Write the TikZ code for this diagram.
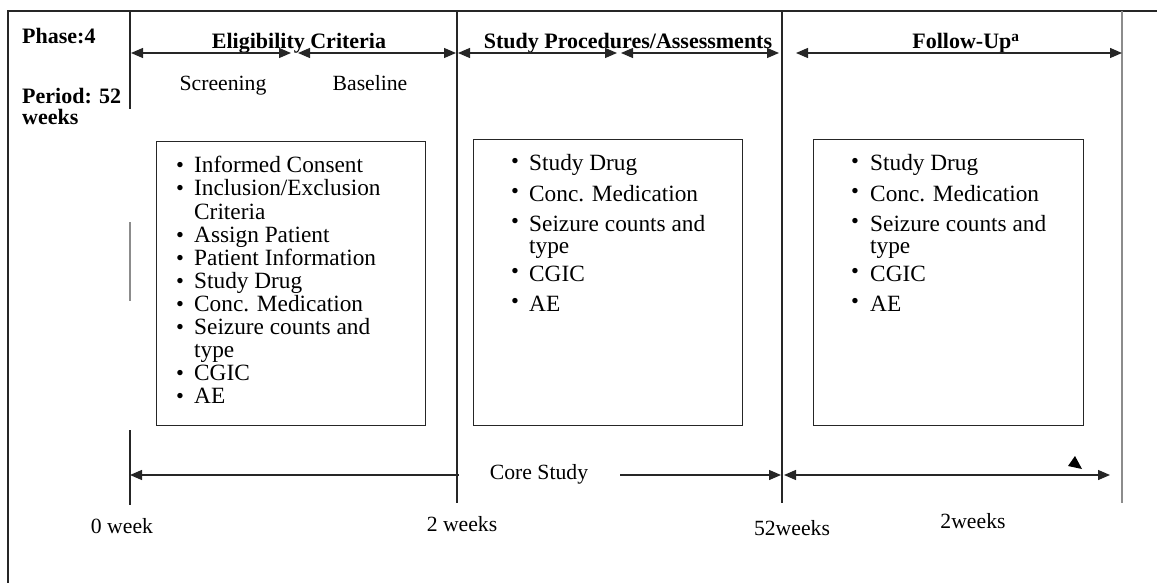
\documentclass[tikz,border=0pt]{standalone}
\usepackage{fontspec}
\setmainfont{Liberation Serif}
\usetikzlibrary{arrows.meta}
\tikzset{
  txt/.style={font=\fontsize{21.7}{24}\selectfont, inner sep=0pt, anchor=base},
  btxt/.style={font=\fontsize{22}{24}\selectfont\bfseries, inner sep=0pt, anchor=base},
  itm/.style={font=\fontsize{23.3}{24}\selectfont, inner sep=0pt, anchor=base west},
  bul/.style={font=\fontsize{22.5}{24}\selectfont, inner sep=0pt, anchor=base},
  boxst/.style={draw=black!85, line width=1.3pt, anchor=north west, inner sep=0pt},
  vln/.style={draw=black!85, line width=1.5pt},
  gln/.style={draw=black!45, line width=1.8pt},
  darr/.style={draw=black!85, line width=1.3pt, {Triangle[length=12pt,width=10pt]}-{Triangle[length=12pt,width=10pt]}},
  larr/.style={draw=black!85, line width=1.3pt, {Triangle[length=12pt,width=10pt]}-},
  rarr/.style={draw=black!85, line width=1.3pt, -{Triangle[length=12pt,width=10pt]}},
}
\begin{document}
\begin{tikzpicture}[x=1pt,y=-1pt]
\useasboundingbox (0,0) rectangle (1157,583);

% outer frame
\coordinate (fb) at (8,583);
\coordinate (fc) at (8,11);
\coordinate (fr) at (1157,11);
\draw[vln] (fb) -- (fc) -- (fr);

% vertical lines
\coordinate (v1a) at (130,11);  \coordinate (v1b) at (130,109);
\coordinate (v1c) at (130,222); \coordinate (v1d) at (130,301);
\coordinate (v1e) at (130,430); \coordinate (v1f) at (130,505);
\draw[vln] (v1a) -- (v1b);
\draw[gln] (v1c) -- (v1d);
\draw[vln] (v1e) -- (v1f);
\coordinate (v2a) at (457,11);  \coordinate (v2b) at (457,503);
\coordinate (v3a) at (782,11);  \coordinate (v3b) at (782,503);
\coordinate (v4a) at (1122,11); \coordinate (v4b) at (1122,503);
\draw[vln] (v2a) -- (v2b);
\draw[vln] (v3a) -- (v3b);
\draw[gln] (v4a) -- (v4b);

% left labels
\node[btxt, anchor=base west] (phase) at (22,44) {Phase:4};
\node[btxt, anchor=base west] (period) at (22,104) {Period: 52};
\node[btxt, anchor=base west] (weeks) at (22,125) {weeks};

% top headings
\node[btxt] (elig) at (299,49) {Eligibility Criteria};
\node[btxt] (proc) at (628,49) {Study Procedures/Assessments};
\node[btxt] (fup) at (966,49) {Follow-Up\textsuperscript{a}};
\node[txt] (scr) at (223,91) {Screening};
\node[txt] (base) at (370,91) {Baseline};

% top dimension arrows
\coordinate (e1) at (131,53); \coordinate (e2) at (291,53);
\coordinate (e3) at (298,53); \coordinate (e4) at (456,53);
\coordinate (p1) at (458,53); \coordinate (p2) at (617,53);
\coordinate (p3) at (621,53); \coordinate (p4) at (779,53);
\coordinate (f1) at (796,53); \coordinate (f2) at (1122,53);
\draw[darr] (e1) -- (e2);
\draw[darr] (e3) -- (e4);
\draw[darr] (p1) -- (p2);
\draw[darr] (p3) -- (p4);
\draw[darr] (f1) -- (f2);

% boxes
\node[boxst, minimum width=269, minimum height=284] (box1) at (156,141) {};
\node[boxst, minimum width=269, minimum height=286] (box2) at (473,139) {};
\node[boxst, minimum width=270, minimum height=286] (box3) at (813,139) {};

% box 1 list
\foreach \n/\y/\t in {a/173/{Informed Consent}, b/196/{Inclusion/Exclusion}, d/242/{Assign Patient}, e/265/{Patient Information}, f/288/{Study Drug}, g/311/{Conc. Medication}, h/334/{Seizure counts and}, j/380/{CGIC}, k/403/{AE}}{
  \node[bul] (b1u\n) at (180,\y) {•};
  \node[itm] (b1t\n) at (194,\y) {\t};
}
\node[itm] (b1tc) at (194,219) {Criteria};
\node[itm] (b1ti) at (194,357) {type};

% box 2 and 3 lists
\foreach \bx/\bu/\tx in {2/515/529, 3/855/870}{
  \foreach \n/\y/\t in {a/171/{Study Drug}, b/201/{Conc. Medication}, c/231/{Seizure counts and}, e/281/{CGIC}, f/311/{AE}}{
    \node[bul] (b\bx u\n) at (\bu,\y-3) {•};
    \node[itm] (b\bx t\n) at (\tx,\y) {\t};
  }
  \node[itm] (b\bx td) at (\tx,253) {type};
}

% bottom arrows
\node[txt] (core) at (539,479) {Core Study};
\coordinate (c0) at (130,475); \coordinate (c1) at (459,475);
\coordinate (c2) at (620,475); \coordinate (c3) at (781,475);
\coordinate (g1) at (784,475); \coordinate (g2) at (1110,475);
\draw[larr] (c0) -- (c1);
\draw[rarr] (c2) -- (c3);
\draw[darr] (g1) -- (g2);
\fill[black] (1068,466) -- (1075,456) -- (1082,469) -- cycle;

% bottom labels
\node[txt] (w0) at (122,533) {0 week};
\node[txt] (w2) at (462,531) {2 weeks};
\node[txt] (w52) at (792,535) {52weeks};
\node[txt] (w2b) at (973,528) {2weeks};
\end{tikzpicture}
\end{document}
